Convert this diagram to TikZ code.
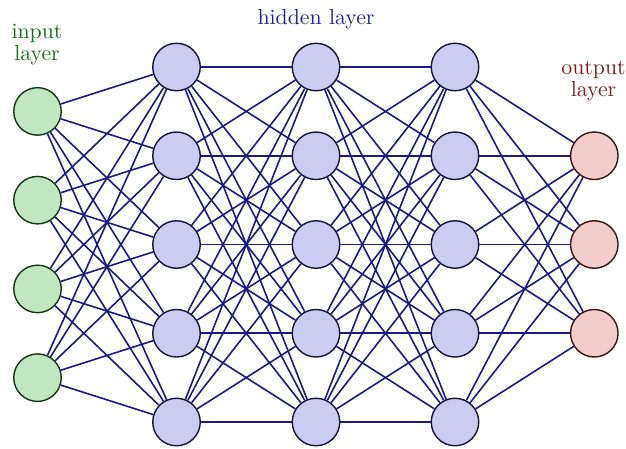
\documentclass[tikz,border=0pt]{standalone}
\usepackage{xcolor}
\usepackage{graphicx}
\definecolor{edgec}{HTML}{1A1A80}
\definecolor{inF}{HTML}{C2E6C2}
\definecolor{inD}{HTML}{143814}
\definecolor{hidF}{HTML}{CCCCF2}
\definecolor{hidD}{HTML}{141438}
\definecolor{outF}{HTML}{F5CCCC}
\definecolor{outD}{HTML}{381414}
\definecolor{inT}{HTML}{1F6B1F}
\definecolor{hidT}{HTML}{222290}
\definecolor{outT}{HTML}{7A2020}
\newcommand{\biglab}[1]{\scalebox{2.18}{\renewcommand{\arraystretch}{0.85}\begin{tabular}{@{}c@{}}#1\end{tabular}}}
\begin{document}
\begin{tikzpicture}[x=1pt,y=-1pt,
  neuron/.style={circle,inner sep=0pt,minimum size=47.5pt,line width=1.4pt},
  inn/.style={neuron,fill=inF,draw=inD},
  hid/.style={neuron,fill=hidF,draw=hidD},
  outn/.style={neuron,fill=outF,draw=outD},
  conn/.style={draw=edgec,line width=1.6pt},
  lab/.style={align=center,inner sep=0pt}]
\useasboundingbox (0,0) rectangle (626,448);
% nodes
\foreach \i in {1,...,4}
  \node[inn] (I\i) at (37.5,{111.4+88.75*(\i-1)}) {};
\foreach \l/\x in {1/176.5,2/316,3/455}
  \foreach \i in {1,...,5}
    \node[hid] (H\l-\i) at (\x,{67+88.75*(\i-1)}) {};
\foreach \i in {1,...,3}
  \node[outn] (O\i) at (594.3,{155.75+88.75*(\i-1)}) {};
% connections
\foreach \a in {1,...,4}
  \foreach \b in {1,...,5}
    \draw[conn] (I\a) -- (H1-\b);
\foreach \a in {1,...,5}
  \foreach \b in {1,...,5}
    {\draw[conn] (H1-\a) -- (H2-\b);
     \draw[conn] (H2-\a) -- (H3-\b);}
\foreach \a in {1,...,5}
  \foreach \b in {1,...,3}
    \draw[conn] (H3-\a) -- (O\b);
% labels
\node[lab,text=inT] (tin) at (37,45) {\biglab{input\\layer}};
\node[lab,text=hidT] (thid) at (316,20) {\biglab{hidden layer}};
\node[lab,text=outT] (tout) at (593.5,81) {\biglab{output\\layer}};
\end{tikzpicture}
\end{document}
